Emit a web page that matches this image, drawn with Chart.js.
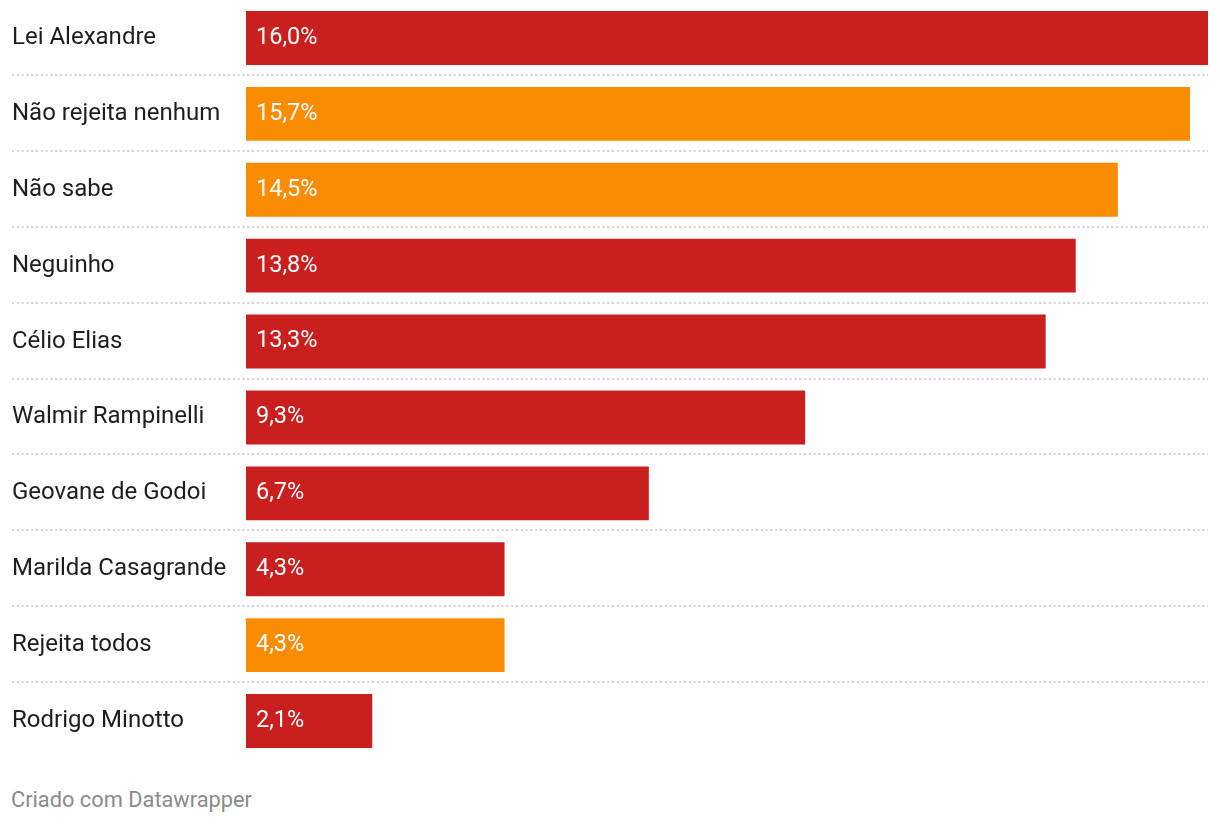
<!DOCTYPE html>
<html>
<head>
<meta charset="utf-8">
<script src="https://cdn.jsdelivr.net/npm/chart.js@4/dist/chart.umd.min.js"></script>
<style>
  html, body { margin: 0; padding: 0; background: #fff; }
  body { width: 1220px; height: 824px; position: relative; overflow: hidden; font-family: Roboto, sans-serif; }
  #wrap { position: absolute; left: 0; top: 0px; width: 1220px; height: 760px; }
  #footer { position: absolute; left: 11px; top: 787px; font-size: 21.8px; color: #8a8a8a; font-family: Roboto, sans-serif; line-height: 26px; }
</style>
</head>
<body>
<div id="wrap"><canvas id="c"></canvas></div>
<div id="footer">Criado com Datawrapper</div>
<script>
const categories = ["Lei Alexandre", "Não rejeita nenhum", "Não sabe", "Neguinho", "Célio Elias", "Walmir Rampinelli", "Geovane de Godoi", "Marilda Casagrande", "Rejeita todos", "Rodrigo Minotto"];
const values = [16.0, 15.7, 14.5, 13.8, 13.3, 9.3, 6.7, 4.3, 4.3, 2.1];
const isCandidate = [true, false, false, true, true, true, true, true, false, true];

const RED = "#c91f1f";
const ORANGE = "#f98c00";

const separators = {
  id: "separators",
  beforeDatasetsDraw(chart) {
    const { ctx, chartArea } = chart;
    const y = chart.scales.y;
    ctx.save();
    ctx.strokeStyle = "#d2d2d2";
    ctx.lineWidth = 2;
    ctx.setLineDash([2, 2.8]);
    for (let i = 1; i < categories.length; i++) {
      const py = Math.round((y.getPixelForTick(i - 1) + y.getPixelForTick(i)) / 2) - 1;
      ctx.beginPath();
      ctx.moveTo(12, py);
      ctx.lineTo(chartArea.right, py);
      ctx.stroke();
    }
    ctx.restore();
  }
};

const valueLabels = {
  id: "valueLabels",
  afterDatasetsDraw(chart) {
    const { ctx } = chart;
    const meta = chart.getDatasetMeta(0);
    ctx.save();
    ctx.fillStyle = "#ffffff";
    ctx.font = "23.5px Roboto";
    ctx.textAlign = "left";
    ctx.textBaseline = "middle";
    meta.data.forEach((bar, i) => {
      const txt = values[i].toFixed(1).replace(".", ",") + "%";
      ctx.fillText(txt, bar.base + 10, bar.y);
    });
    ctx.restore();
  }
};

new Chart(document.getElementById("c"), {
  type: "bar",
  data: {
    labels: categories,
    datasets: [{
      data: values,
      backgroundColor: isCandidate.map(c => c ? RED : ORANGE),
      borderWidth: 0,
      barPercentage: 54 / 76,
      categoryPercentage: 1
    }]
  },
  options: {
    indexAxis: "y",
    responsive: true,
    maintainAspectRatio: false,
    animation: false,
    layout: { padding: { left: 12, right: 12, top: -1, bottom: 1 } },
    plugins: { legend: { display: false }, tooltip: { enabled: false } },
    scales: {
      x: {
        display: false,
        min: 0,
        max: 16.0
      },
      y: {
        afterFit(scale) { scale.width = 234; scale.paddingTop = 0; scale.paddingBottom = 0; },
        grid: { display: false },
        border: { display: false },
        ticks: {
          crossAlign: "far",
          color: "#1d1d1d",
          font: { family: "Roboto", size: 24, lineHeight: 0 },
          padding: 0
        }
      }
    }
  },
  plugins: [separators, valueLabels]
});
</script>
</body>
</html>
